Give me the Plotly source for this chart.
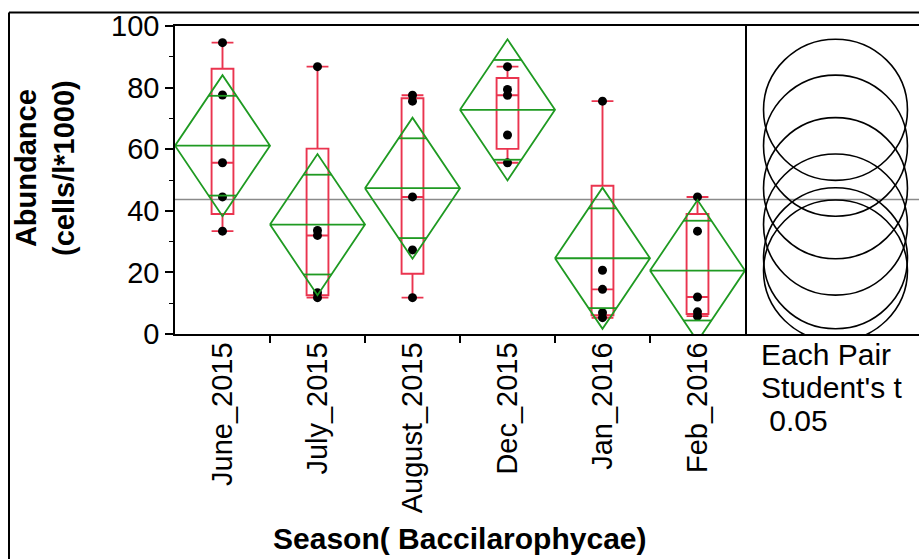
import numpy as np
import plotly.graph_objects as go

# Abundance (cells/l*1000) of Baccilarophycae by sampling season
seasons = ["June_2015", "July_2015", "August_2015", "Dec_2015", "Jan_2016", "Feb_2016"]
june_2015 = [94.6, 77.6, 55.6, 44.5, 33.4]
july_2015 = [86.8, 33.6, 32.0, 13.4, 11.8]
august_2015 = [77.5, 75.6, 44.5, 27.3, 11.8]
dec_2015 = [86.8, 79.4, 77.5, 64.6, 55.6]
jan_2016 = [75.6, 20.7, 14.5, 6.9, 5.3]
feb_2016 = [44.5, 33.4, 12.0, 7.2, 5.8]
groups = [june_2015, july_2015, august_2015, dec_2015, jan_2016, feb_2016]

y_ticks = [0, 20, 40, 60, 80, 100]
t_crit = 2.0639  # Student's t, alpha = 0.05 two-sided, df = 24

W, H = 919, 559
FONT = "Liberation Sans, Arial, sans-serif"
RED = "#EA344F"
GREEN = "#1F9A22"

# plot frame in pixels
PX_L, PX_MID, PX_T, PX_B = 175, 745, 26, 334

# One-way ANOVA summary: group means, pooled error, confidence half-width
means = np.array([np.mean(g) for g in groups])
ns = np.array([len(g) for g in groups])
sse = sum(((np.array(g) - np.mean(g)) ** 2).sum() for g in groups)
dfe = ns.sum() - len(groups)
mse = sse / dfe
half = t_crit * np.sqrt(mse / ns)
grand_mean = np.mean(np.concatenate([np.array(g) for g in groups]))

fig = go.Figure()

# means diamonds with overlap marks
for i, (m, h) in enumerate(zip(means, half)):
    fig.add_trace(go.Scatter(
        x=[i - 0.5, i, i + 0.5, i, i - 0.5, i + 0.5],
        y=[m, m + h, m, m - h, m, m],
        mode="lines", line=dict(color=GREEN, width=1.8),
        hoverinfo="skip", showlegend=False))
    d = h / np.sqrt(2)
    hw = 0.5 * (1 - 1 / np.sqrt(2))
    for yy in (m + d, m - d):
        fig.add_trace(go.Scatter(
            x=[i - hw, i + hw], y=[yy, yy], mode="lines",
            line=dict(color=GREEN, width=1.8),
            hoverinfo="skip", showlegend=False))

# quantile box plots with all observations
for i, g in enumerate(groups):
    fig.add_trace(go.Box(
        x=[i] * len(g), y=g, name=seasons[i],
        quartilemethod="exclusive", boxpoints="all", jitter=0, pointpos=0,
        width=0.23, whiskerwidth=1,
        line=dict(color=RED, width=1.9), fillcolor="rgba(0,0,0,0)",
        marker=dict(color="black", size=9, line=dict(width=0)),
        showlegend=False))

# comparison circles (each pair, Student's t); x2 uses the same units per pixel as y
units_per_px = 100 / (PX_B - PX_T)
x2_span = (W - PX_MID) * units_per_px
cx = 90.5 * units_per_px
shapes = []
for m, h in zip(means, half):
    shapes.append(dict(type="circle", xref="x2", yref="y2",
                       x0=cx - h * 1.02, x1=cx + h * 1.02, y0=m - h, y1=m + h,
                       line=dict(color="black", width=1.6)))

# grand mean reference line across both panels
shapes.append(dict(type="line", xref="paper", yref="y",
                   x0=PX_L / W, x1=1, y0=grand_mean, y1=grand_mean,
                   line=dict(color="#8a8a8a", width=1.6), layer="below"))

# outer report frame
shapes.append(dict(type="line", xref="paper", yref="paper",
                   x0=9 / W, x1=1, y0=1 - 12.5 / H, y1=1 - 12.5 / H,
                   line=dict(color="black", width=2)))
shapes.append(dict(type="line", xref="paper", yref="paper",
                   x0=9 / W, x1=9 / W, y0=0, y1=1 - 12.5 / H,
                   line=dict(color="black", width=2)))

y_dom = [(H - PX_B) / H, (H - PX_T) / H]

annotations = [
    dict(text="<b>Abundance</b><br><b>(cells/l*1000)</b>", textangle=-90,
         xref="paper", yref="paper", x=45 / W, y=1 - 168 / H,
         xanchor="center", yanchor="middle", showarrow=False,
         font=dict(family=FONT, size=29, color="black")),
    dict(text="<b>Season( Baccilarophycae)</b>",
         xref="paper", yref="paper", x=460 / W, y=1 - 538 / H,
         xanchor="center", yanchor="middle", showarrow=False,
         font=dict(family=FONT, size=30, color="black")),
]
for txt, yy in (("Each Pair", 354), ("Student's t", 387), ("\u00a00.05", 420)):
    annotations.append(dict(text=txt, xref="paper", yref="paper",
                            x=759 / W, y=1 - yy / H, xanchor="left",
                            yanchor="middle", showarrow=False,
                            font=dict(family=FONT, size=30, color="black")))

fig.update_layout(
    width=W, height=H, margin=dict(l=0, r=0, t=0, b=0, autoexpand=False),
    paper_bgcolor="white", plot_bgcolor="white",
    font=dict(family=FONT, color="black"),
    shapes=shapes, annotations=annotations,
    xaxis=dict(domain=[PX_L / W, PX_MID / W], range=[-0.5, 5.5], automargin=False,
               tickvals=list(range(len(seasons))), ticktext=seasons,
               ticks="", tickangle=-90, tickfont=dict(size=29),
               ticklabelstandoff=-5,
               minor=dict(tickvals=[k + 0.5 for k in range(len(seasons) - 1)],
                          ticks="outside", ticklen=7, tickwidth=1.5,
                          tickcolor="black", showgrid=False),
               showgrid=False, zeroline=False, showline=True, mirror=True,
               linecolor="black", linewidth=1.6),
    yaxis=dict(domain=y_dom, range=[0, 100], tickvals=y_ticks, automargin=False,
               ticks="outside", ticklen=8, tickwidth=1.5, tickcolor="black",
               minor=dict(dtick=10, ticks="outside", ticklen=4, tickwidth=1.2,
                          tickcolor="black", showgrid=False),
               tickfont=dict(size=29), showgrid=False, zeroline=False,
               showline=True, mirror=True, linecolor="black", linewidth=1.6),
    xaxis2=dict(domain=[PX_MID / W, 1], anchor="y2", range=[0, x2_span],
                automargin=False,
                showticklabels=False, ticks="", showgrid=False, zeroline=False,
                showline=True, mirror=True, linecolor="black", linewidth=1.6),
    yaxis2=dict(domain=y_dom, anchor="x2", range=[0, 100], automargin=False,
                showticklabels=False, ticks="", showgrid=False, zeroline=False,
                showline=False),
)

fig.write_html("out.html")
